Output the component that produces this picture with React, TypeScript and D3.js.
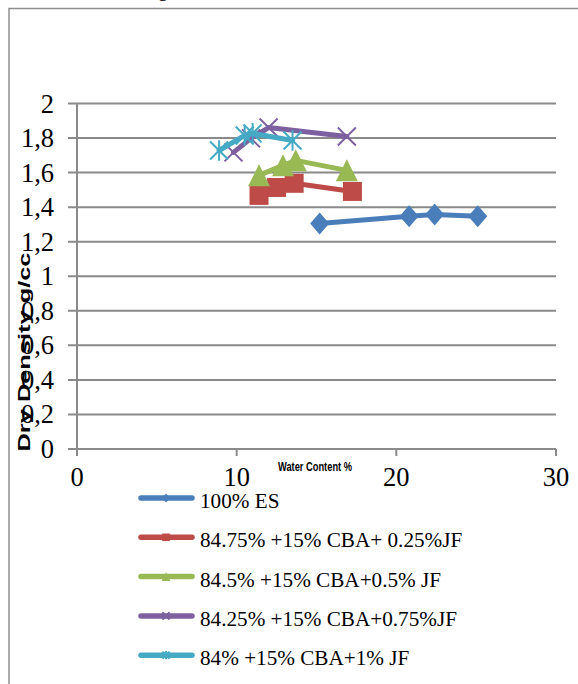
import React from "react";
import * as d3 from "d3";

const seriesNames = [
  "100% ES",
  "84.75% +15% CBA+ 0.25%JF",
  "84.5% +15% CBA+0.5% JF",
  "84.25% +15% CBA+0.75%JF",
  "84% +15% CBA+1% JF",
];
const seriesColors = ["#4A7EBB", "#BE4B48", "#98B954", "#7D60A0", "#46AAC5"];
const seriesMarkers = ["diamond", "square", "triangle", "x", "star"];

const esX = [15.2, 20.8, 22.4, 25.1];
const esY = [1.306, 1.347, 1.357, 1.347];
const jf025X = [11.4, 12.5, 13.6, 17.25];
const jf025Y = [1.468, 1.514, 1.538, 1.491];
const jf05X = [11.4, 12.9, 13.7, 16.9];
const jf05Y = [1.584, 1.642, 1.671, 1.613];
const jf075X = [9.8, 10.9, 12.0, 16.9];
const jf075Y = [1.717, 1.798, 1.861, 1.809];
const jf1X = [8.9, 10.5, 11.0, 13.5];
const jf1Y = [1.728, 1.815, 1.827, 1.786];

const seriesX = [esX, jf025X, jf05X, jf075X, jf1X];
const seriesY = [esY, jf025Y, jf05Y, jf075Y, jf1Y];

const xTicks = [0, 10, 20, 30];
const yTicks = [0, 0.2, 0.4, 0.6, 0.8, 1, 1.2, 1.4, 1.6, 1.8, 2];
const yTickLabels = ["0", "0,2", "0,4", "0,6", "0,8", "1", "1,2", "1,4", "1,6", "1,8", "2"];

const xTitle = "Water Content %";
const yTitle = "Dry Density g/cc";

const SERIF = "Liberation Serif";
const SANS = "Liberation Sans";

function Marker({ type, x, y, color, s }: { type: string; x: number; y: number; color: string; s: number }) {
  if (type === "diamond") {
    const w = 9.5 * s, h = 11 * s;
    return <path d={`M${x},${y - h}L${x + w},${y}L${x},${y + h}L${x - w},${y}Z`} fill={color} />;
  }
  if (type === "square") {
    const a = 9.5 * s;
    return <rect x={x - a} y={y - a} width={2 * a} height={2 * a} fill={color} />;
  }
  if (type === "triangle") {
    const w = 11 * s, h = 11 * s;
    return <path d={`M${x},${y - h}L${x + w},${y + h}L${x - w},${y + h}Z`} fill={color} />;
  }
  if (type === "x") {
    const a = 9 * s;
    return (
      <path
        d={`M${x - a},${y - a}L${x + a},${y + a}M${x - a},${y + a}L${x + a},${y - a}`}
        stroke={color}
        strokeWidth={2}
        fill="none"
      />
    );
  }
  const a = 9 * s;
  return (
    <path
      d={`M${x - a},${y - a}L${x + a},${y + a}M${x - a},${y + a}L${x + a},${y - a}M${x},${y - a * 1.15}L${x},${y + a * 1.15}`}
      stroke={color}
      strokeWidth={2}
      fill="none"
    />
  );
}

export default function App() {
  const width = 578;
  const height = 684;
  const x = d3.scaleLinear().domain([0, 30]).range([77, 556]);
  const y = d3.scaleLinear().domain([0, 2]).range([449, 103.5]);
  const line = d3
    .line<[number, number]>()
    .x((d) => x(d[0]))
    .y((d) => y(d[1]));
  const grid = "#8a8a8a";
  const serif = { fontFamily: SERIF };
  const sans = { fontFamily: SANS, fontWeight: 700 as const };

  return (
    <svg
      width={width}
      height={height}
      style={{ position: "absolute", left: 0, top: 0, background: "#fff", fontFamily: SERIF }}
    >
      <rect x={0} y={0} width={width} height={height} fill="#fff" />
      <text x={158} y={-4} fontSize={20} fill="#000" style={serif}>g</text>
      <path d={`M9,${height}L9,8.5L${width},8.5`} stroke="#8e8e8e" strokeWidth={1.5} fill="none" />

      {yTicks.map((t, i) => (
        <g key={i}>
          <line x1={68} x2={556} y1={y(t)} y2={y(t)} stroke={grid} strokeWidth={2} />
          <text x={54} y={y(t)} dy="0.34em" textAnchor="end" fontSize={26.5} fill="#000" style={serif}>
            {yTickLabels[i]}
          </text>
        </g>
      ))}
      <line x1={x(0)} x2={x(0)} y1={y(2)} y2={455} stroke={grid} strokeWidth={2} />
      {xTicks.map((t) => (
        <g key={t}>
          <line x1={x(t)} x2={x(t)} y1={y(0)} y2={456} stroke={grid} strokeWidth={2} />
          <text x={x(t)} y={486} textAnchor="middle" fontSize={26.5} fill="#000" style={serif}>
            {t}
          </text>
        </g>
      ))}

      <text
        x={315}
        y={471}
        textAnchor="middle"
        fontSize={13}
        textLength={74}
        lengthAdjust="spacingAndGlyphs"
        fill="#000"
        style={sans}
      >
        {xTitle}
      </text>
      <text
        transform="translate(30,352) rotate(-90)"
        textAnchor="middle"
        fontSize={17}
        textLength={199}
        lengthAdjust="spacingAndGlyphs"
        fill="#000"
        style={sans}
      >
        {yTitle}
      </text>

      {seriesNames.map((name, si) => {
        const pts: [number, number][] = seriesX[si].map((v, i) => [v, seriesY[si][i]]);
        return (
          <g key={name}>
            <path
              d={line(pts) || ""}
              stroke={seriesColors[si]}
              strokeWidth={5}
              fill="none"
              strokeLinejoin="round"
              strokeLinecap="round"
            />
            {pts.map((p, i) => (
              <Marker key={i} type={seriesMarkers[si]} x={x(p[0])} y={y(p[1])} color={seriesColors[si]} s={1} />
            ))}
          </g>
        );
      })}

      {seriesNames.map((name, si) => {
        const ly = 498 + si * 39.3;
        return (
          <g key={"lg" + name}>
            <line x1={141} x2={192} y1={ly} y2={ly} stroke={seriesColors[si]} strokeWidth={5.5} strokeLinecap="round" />
            <Marker type={seriesMarkers[si]} x={166} y={ly} color={seriesColors[si]} s={0.4} />
            <text x={200} y={ly + 10} fontSize={21.2} fill="#000" style={serif}>
              {name}
            </text>
          </g>
        );
      })}
    </svg>
  );
}
